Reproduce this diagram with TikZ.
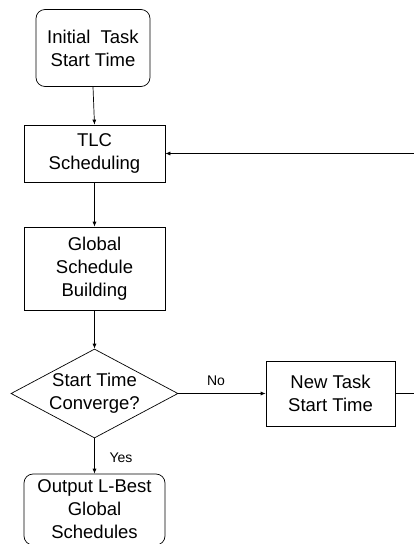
\documentclass[tikz,border=0pt]{standalone}
\usepackage{fontspec}
\setmainfont{Liberation Sans}
\usetikzlibrary{shapes.geometric,arrows.meta}
\begin{document}
\begin{tikzpicture}[x=1pt,y=-1pt,
  every node/.style={font=\fontsize{18.5}{23}\selectfont, align=center, inner sep=0pt},
  box/.style={draw, line width=0.7pt, rectangle},
  rbox/.style={box, rounded corners=9pt},
  lbl/.style={font=\fontsize{14}{16}\selectfont},
  arr/.style={draw, line width=0.7pt, -{Latex[length=5pt,width=4pt]}},
  ln/.style={draw, line width=0.7pt}]
\useasboundingbox (0,0) rectangle (414,544);
\node[rbox, minimum width=114pt, minimum height=77pt] (init) at (93,48) {Initial\ \ Task\\Start Time};
\node[box, minimum width=141pt, minimum height=57pt] (tlc) at (94.5,153.5) {TLC\\Scheduling};
\node[box, minimum width=141pt, minimum height=83pt] (glob) at (94.5,268.5) {Global\\Schedule\\Building};
\node[diamond, draw, line width=0.7pt, minimum width=167pt, minimum height=89pt,
      label={[font=\fontsize{18.5}{23}\selectfont, align=center]center:{Start Time\\Converge?}}] (dec) at (94.5,393.5) {};
\node[box, minimum width=129pt, minimum height=65pt] (new) at (330.5,393.5) {New Task\\Start Time};
\node[rbox, minimum width=141pt, minimum height=71pt] (out) at (94.5,509.5) {Output L-Best\\Global\\Schedules};
\node[lbl] (no) at (216,381) {No};
\node[lbl] (yes) at (121,458) {Yes};
\coordinate (fb) at (415,393.5);
\draw[arr] (init.south) -- (tlc.north);
\draw[arr] (tlc.south) -- (glob.north);
\draw[arr] (glob.south) -- (dec.north);
\draw[arr] (dec.east) -- (new.west);
\draw[arr] (dec.south) -- (out.north);
\draw[arr] (new.east) -- (fb) |- (tlc.east);
\end{tikzpicture}
\end{document}
